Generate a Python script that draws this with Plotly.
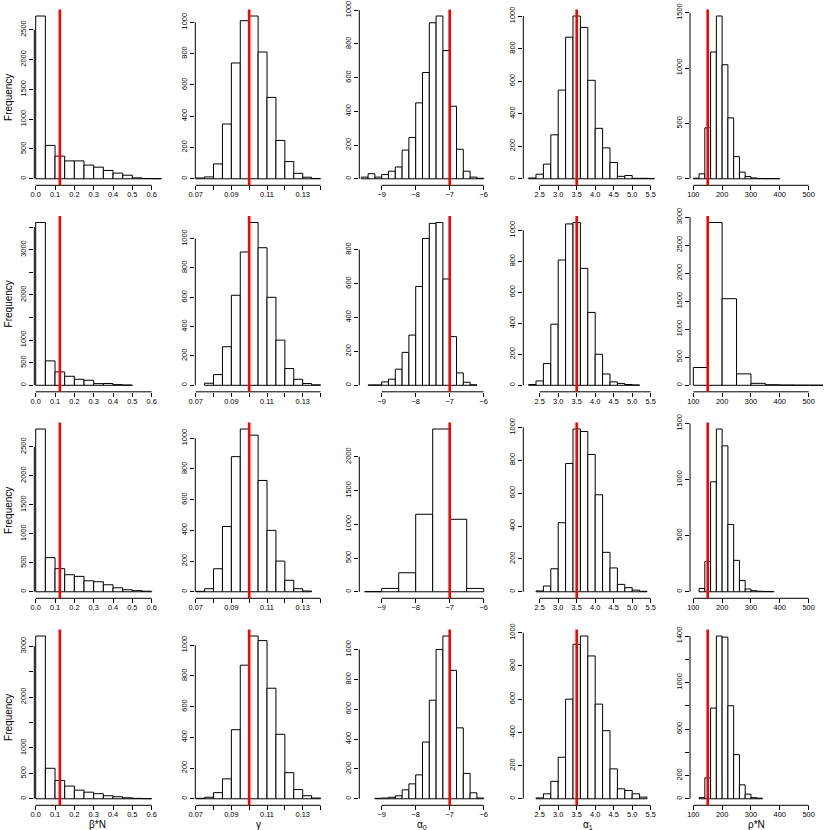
import plotly.graph_objects as go

# ------------------------------------------------------------------ data
x_titles = ["β*N", "γ", "α<sub>0</sub>", "α<sub>1</sub>", "ρ*N"]
true_values = [0.125, 0.1, -7.0, 3.5, 150]

# histogram breaks: first break and bin width for every panel (rows x cols)
break_start = [
    [0.0, 0.070, -9.6, 2.2, 100],
    [0.0, 0.075, -9.4, 2.2, 100],
    [0.0, 0.070, -9.5, 2.4, 120],
    [0.0, 0.070, -9.2, 2.4, 120],
]
break_width = [
    [0.05, 0.005, 0.2, 0.2, 20],
    [0.05, 0.005, 0.2, 0.2, 50],
    [0.05, 0.005, 0.5, 0.2, 20],
    [0.05, 0.005, 0.2, 0.2, 20],
]

# counts, row 1
r1_beta = [2730, 560, 380, 300, 300, 230, 195, 140, 95, 60, 15, 5, 3]
r1_gamma = [5, 12, 95, 350, 740, 1010, 1040, 810, 520, 245, 110, 35, 10, 2]
r1_alpha0 = [10, 30, 10, 25, 45, 70, 170, 245, 450, 630, 925, 965, 760, 430, 175, 45, 10, 3]
r1_alpha1 = [5, 28, 90, 270, 545, 870, 1000, 930, 605, 310, 190, 100, 15, 20, 3, 3, 2]
r1_rho = [5, 45, 460, 1145, 1470, 1030, 550, 200, 60, 20, 8, 3, 2, 2, 2]
# counts, row 2
r2_beta = [3600, 540, 296, 200, 133, 111, 37, 40, 15, 5]
r2_gamma = [14, 73, 263, 614, 909, 1110, 938, 600, 308, 114, 41, 12, 3]
r2_alpha0 = [2, 2, 20, 36, 95, 194, 296, 583, 866, 955, 960, 627, 287, 73, 18, 3]
r2_alpha1 = [5, 28, 140, 394, 808, 1041, 1050, 754, 470, 200, 73, 22, 12, 5, 2]
r2_rho = [317, 2904, 1545, 204, 35, 10, 5, 3, 2]
# counts, row 3
r3_beta = [2806, 589, 398, 294, 266, 190, 173, 121, 69, 35, 20, 10]
r3_gamma = [3, 20, 150, 425, 880, 1060, 1020, 725, 400, 200, 75, 20, 5]
r3_alpha0 = [3, 50, 282, 1148, 2411, 1074, 50]
r3_alpha1 = [5, 35, 140, 420, 780, 990, 975, 835, 590, 240, 145, 45, 25, 10, 3]
r3_rho = [30, 270, 980, 1450, 1300, 600, 280, 100, 25, 10, 5, 3, 2]
# counts, row 4
r4_beta = [3200, 600, 360, 250, 170, 130, 100, 60, 40, 20, 8, 3]
r4_gamma = [3, 10, 40, 130, 450, 870, 1060, 1030, 720, 420, 170, 60, 20, 5]
r4_alpha0 = [3, 5, 10, 20, 60, 100, 160, 380, 660, 1000, 1090, 860, 475, 170, 40, 5]
r4_alpha1 = [5, 30, 105, 250, 600, 930, 980, 860, 570, 410, 180, 60, 50, 30, 10]
r4_rho = [10, 180, 780, 1400, 1390, 800, 380, 120, 40, 10, 5]

counts = [
    [r1_beta, r1_gamma, r1_alpha0, r1_alpha1, r1_rho],
    [r2_beta, r2_gamma, r2_alpha0, r2_alpha1, r2_rho],
    [r3_beta, r3_gamma, r3_alpha0, r3_alpha1, r3_rho],
    [r4_beta, r4_gamma, r4_alpha0, r4_alpha1, r4_rho],
]

# x axis ticks per column (labelled) and unlabelled tick marks
x_tickvals = [
    [0.0, 0.1, 0.2, 0.3, 0.4, 0.5, 0.6],
    [0.07, 0.09, 0.11, 0.13],
    [-9, -8, -7, -6],
    [2.5, 3.0, 3.5, 4.0, 4.5, 5.0, 5.5],
    [100, 200, 300, 400, 500],
]
x_ticktext = [
    ["0.0", "0.1", "0.2", "0.3", "0.4", "0.5", "0.6"],
    ["0.07", "0.09", "0.11", "0.13"],
    ["\u22129", "\u22128", "\u22127", "\u22126"],
    ["2.5", "3.0", "3.5", "4.0", "4.5", "5.0", "5.5"],
    ["100", "200", "300", "400", "500"],
]
x_minor_ticks = [[], [0.08, 0.10, 0.12, 0.14], [], [], []]
x_axis_span = [(0.0, 0.6), (0.07, 0.14), (-9, -6), (2.5, 5.5), (100, 500)]

# y axis ticks per panel: (step, last tick, labels left unprinted)
y_ticks = [
    [(500, 2500, []), (200, 1000, []), (200, 1000, []), (200, 1000, []), (500, 1500, [])],
    [(500, 3500, [1500, 2500, 3500]), (200, 1000, []), (200, 800, []), (200, 1000, []), (500, 3000, [])],
    [(500, 2500, []), (200, 1000, []), (500, 2000, []), (200, 1000, []), (500, 1500, [])],
    [(500, 3000, [1500, 2500]), (200, 1000, []), (200, 1000, []), (200, 1000, []), (200, 1400, [400, 800, 1200])],
]

# ------------------------------------------------------------------ geometry (pixels)
W = H = 830
col_ref = [0.0, 0.07, -9.0, 2.5, 100.0]
col_ref_px = [35.7, 195.7, 381.7, 539.7, 693.3]
col_scale = [193.3, 1783.0, 34.0, 37.0, 0.2883]
col_left = [34.3, 195.3, 359.3, 523.3, 690.0]
col_right = [166.0, 326.0, 490.0, 662.0, 828.0]
row_top = [9.5, 216.0, 422.5, 629.5]
row_height = 175.8
title_x_px = [97, 258, 422, 588, 756]

FONT = "Liberation Sans, Arial, Helvetica, sans-serif"
TICK_SIZE = 7.4
TITLE_SIZE = 10

fig = go.Figure()
layout = dict(
    width=W, height=H, autosize=False,
    margin=dict(l=0, r=0, t=0, b=0, pad=0, autoexpand=False),
    paper_bgcolor="white", plot_bgcolor="white",
    showlegend=False, bargap=0,
    font=dict(family=FONT, color="black", size=TICK_SIZE),
)
shapes = []
annotations = []

for r in range(4):
    for c in range(5):
        n = r * 5 + c + 1
        sfx = "" if n == 1 else str(n)
        cnt = counts[r][c]
        b0 = break_start[r][c]
        bw = break_width[r][c]
        centers = [b0 + bw * (i + 0.5) for i in range(len(cnt))]
        fig.add_trace(go.Bar(
            x=centers, y=cnt, width=[bw] * len(cnt),
            marker=dict(color="white", line=dict(color="black", width=1)),
            xaxis="x" + sfx, yaxis="y" + sfx, hoverinfo="skip",
        ))
        L, R = col_left[c], col_right[c]
        x_lo = col_ref[c] + (L - col_ref_px[c]) / col_scale[c]
        x_hi = col_ref[c] + (R - col_ref_px[c]) / col_scale[c]
        top = row_top[r]
        bot = top + row_height
        m = max(cnt)
        xa = dict(
            domain=[L / W, R / W], range=[x_lo, x_hi], anchor="y" + sfx,
            showgrid=False, zeroline=False, showline=False, automargin=False,
            ticks="outside", ticklen=4, tickwidth=1, tickcolor="black",
            ticklabelstandoff=-2,
            tickvals=x_tickvals[c], ticktext=x_ticktext[c],
            tickfont=dict(size=TICK_SIZE, family=FONT),
        )
        if x_minor_ticks[c]:
            xa["minor"] = dict(tickvals=x_minor_ticks[c], ticks="outside", ticklen=4,
                               tickwidth=1, tickcolor="black", showgrid=False)
        layout["xaxis" + sfx] = xa
        step, last, hide = y_ticks[r][c]
        yv_all = list(range(0, last + 1, step))
        yv = [v for v in yv_all if v not in hide]
        ya = dict(
            domain=[1 - bot / H, 1 - top / H], range=[-0.04 * m, 1.04 * m],
            anchor="x" + sfx,
            showgrid=False, zeroline=False, showline=False, automargin=False,
            ticks="outside", ticklen=4, tickwidth=1, tickcolor="black",
            tickvals=yv, ticktext=[str(v) for v in yv], tickangle=-90,
            tickfont=dict(size=TICK_SIZE, family=FONT),
        )
        if hide:
            ya["minor"] = dict(tickvals=hide, ticks="outside", ticklen=4,
                               tickwidth=1, tickcolor="black", showgrid=False)
        layout["yaxis" + sfx] = ya
        # R-style axis lines spanning the tick range only
        shapes.append(dict(type="line", xref="x" + sfx, yref="y" + sfx + " domain",
                           x0=x_axis_span[c][0], x1=x_axis_span[c][1], y0=0, y1=0,
                           line=dict(color="black", width=1)))
        shapes.append(dict(type="line", xref="x" + sfx + " domain", yref="y" + sfx,
                           x0=0, x1=0, y0=yv_all[0], y1=yv_all[-1],
                           line=dict(color="black", width=1)))
        # true parameter value
        shapes.append(dict(type="line", xref="x" + sfx, yref="y" + sfx + " domain",
                           x0=true_values[c], x1=true_values[c], y0=0, y1=1,
                           line=dict(color="#FF0000", width=2.6), layer="above"))
        if c == 0:
            annotations.append(dict(
                text="Frequency", textangle=-90, xref="paper", yref="paper",
                x=8.5 / W, y=1 - (top + row_height / 2) / H,
                xanchor="center", yanchor="middle", showarrow=False, borderpad=0,
                font=dict(size=TITLE_SIZE, family=FONT, color="black"),
            ))
        if r == 3:
            annotations.append(dict(
                text=x_titles[c], xref="paper", yref="paper",
                x=title_x_px[c] / W, y=1 - 817.5 / H,
                xanchor="center", yanchor="top", showarrow=False, borderpad=0,
                font=dict(size=TITLE_SIZE, family=FONT, color="black"),
            ))

layout["shapes"] = shapes
layout["annotations"] = annotations
fig.update_layout(**layout)
fig.write_html(
    "out.html",
    config={"displayModeBar": False, "staticPlot": True},
    post_script="document.body.style.margin='0px';document.body.style.padding='0px';",
)
